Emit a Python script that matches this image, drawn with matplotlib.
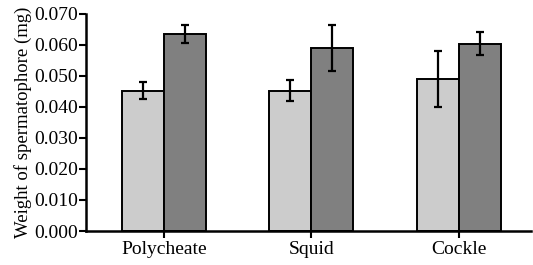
import numpy as np
import matplotlib
matplotlib.use("Agg")
import matplotlib.pyplot as plt

# data
categories = ["Polycheate", "Squid", "Cockle"]
light_vals = [0.0451, 0.0452, 0.0490]
light_err = [0.0027, 0.0033, 0.0090]
dark_vals = [0.0635, 0.0590, 0.0603]
dark_err = [0.0029, 0.0074, 0.0036]
yticks = [0.000, 0.010, 0.020, 0.030, 0.040, 0.050, 0.060, 0.070]

plt.rcParams['font.family'] = ['Liberation Serif', 'DejaVu Serif']

fig = plt.figure(figsize=(5.33, 2.65), dpi=100)
ax = fig.add_axes([86 / 533, 1 - 231 / 265, (531 - 86) / 533, (231 - 13.5) / 265])

x = np.arange(len(categories))
w = 0.285
err_kw = dict(elinewidth=1.6, capsize=3, capthick=1.6, ecolor='black')
ax.bar(x - w / 2, light_vals, w, yerr=light_err, color='#cccccc',
       edgecolor='black', linewidth=1.4, error_kw=err_kw, zorder=2)
ax.bar(x + w / 2, dark_vals, w, yerr=dark_err, color='#808080',
       edgecolor='black', linewidth=1.4, error_kw=err_kw, zorder=2)

ax.set_xlim(-0.529, 2.49)
ax.set_ylim(0, 0.070)
ax.set_yticks(yticks)
ax.set_yticklabels([f"{v:.3f}" for v in yticks])
ax.set_xticks(x)
ax.set_xticklabels(categories)

for s in ['top', 'right']:
    ax.spines[s].set_visible(False)
for s in ['left', 'bottom']:
    ax.spines[s].set_linewidth(1.8)
ax.tick_params(axis='both', direction='out', length=5, width=1.5,
               labelsize=14, colors='black', pad=0.5)
ax.tick_params(axis='x', pad=2)
ax.set_ylabel("Weight of spermatophore (mg)", fontsize=13.5, labelpad=2)

fig.savefig("out.png", dpi=100)
